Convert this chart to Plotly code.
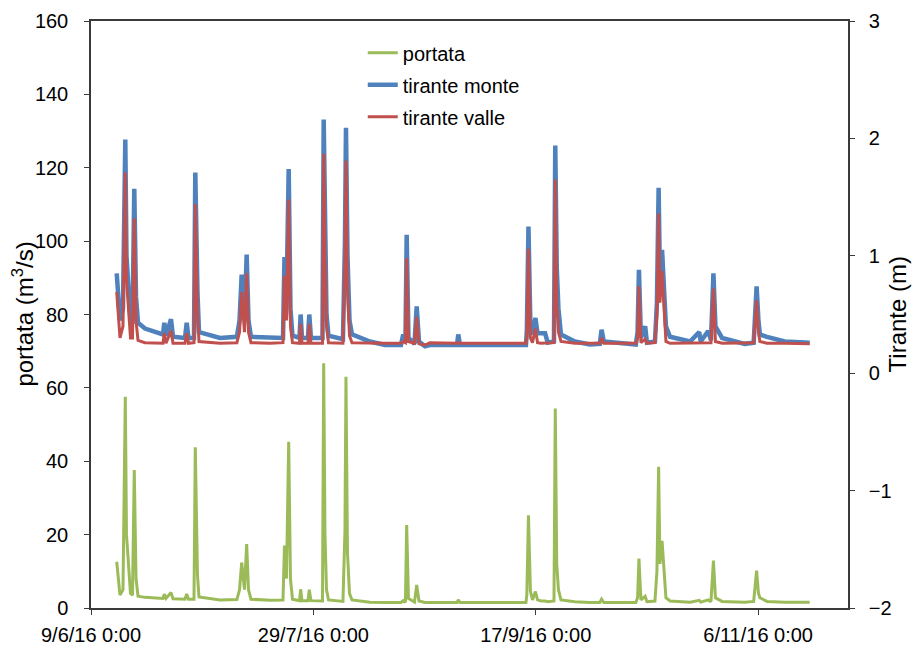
import pandas as pd
import plotly.graph_objects as go

# ---- data ----
start_date = "2016-06-09"
days_since_start = [
    5.78, 6.52, 7.19, 7.71, 7.98, 8.39, 8.88, 9.33, 9.73, 10.12, 10.57, 12.14, 14.39,
    16.19, 16.48, 16.86, 17.99, 18.44, 21.13, 21.52, 21.92, 23.16, 23.45, 23.72, 23.94,
    24.28, 29.0, 32.8, 33.4, 33.88, 34.28, 34.51, 35.0, 35.41, 35.97, 40.24, 43.17, 43.5,
    43.95, 44.45, 44.85, 45.3, 46.87, 47.14, 47.44, 48.79, 49.08, 49.46, 52.05, 52.32,
    52.61, 52.95, 53.4, 56.65, 57.1, 57.33, 57.67, 58.12, 58.68, 62.72, 66.1, 69.7, 70.2,
    70.7, 70.98, 71.38, 72.73, 73.23, 73.74, 75.1, 76.2, 82.3, 82.58, 82.96, 97.8, 98.0,
    98.36, 98.8, 99.26, 99.93, 100.4, 101.2, 102.1, 102.7, 104.1, 104.39, 104.72, 105.1,
    105.67, 108.8, 112.2, 114.4, 114.8, 115.3, 122.5, 122.9, 123.2, 123.65, 124.6, 125.0,
    126.8, 127.25, 127.63, 127.92, 128.4, 128.89, 129.27, 130.2, 134.7, 136.76, 137.1,
    138.78, 139.4, 139.95, 140.4, 141.9, 147.0, 149.0, 149.66, 150.07, 150.4, 151.98,
    156.0, 161.6,
]
portata = [
    12.6, 3.5, 5.0, 57.6, 20, 11.3, 4.0, 3.5, 37.6, 8.0, 3.2, 2.9, 2.7,
    2.6, 3.8, 2.6, 4.2, 2.5, 2.4, 3.8, 2.4, 2.4, 43.8, 15, 9.0,
    3.0, 2.2, 2.3, 5.0, 12.4, 6.0, 5.0, 17.4, 5.0, 2.4, 2.1, 2.2, 17.0,
    8.0, 45.3, 8.0, 2.4, 2.0, 5.1, 2.0, 2.0, 5.0, 2.0, 1.9, 66.7,
    20, 5.0, 2.2, 1.8, 21, 63.0, 15, 4.0, 2.2, 1.6, 1.5, 1.5, 2.0,
    1.6, 22.6, 2.6, 1.6, 6.3, 1.9, 1.5, 1.5, 1.5, 2.2, 1.5, 1.5, 3.6,
    25.3, 4.6, 2.2, 4.5, 2.2, 1.9, 1.9, 1.7, 1.9, 54.4, 12, 5.0,
    2.2, 1.7, 1.5, 1.5, 2.4, 1.5, 1.5, 2.8, 13.5, 2.2, 3.2, 1.7,
    1.9, 10, 38.5, 12, 18.3, 8.5, 2.8, 1.9, 1.6, 2.1, 1.6,
    2.2, 1.7, 12.9, 2.8, 1.8, 1.6, 1.8, 10.2, 4.0, 2.8, 1.8,
    1.6, 1.6,
]
tirante_monte = [
    0.85, 0.45, 0.55, 1.99, 1.00, 0.80, 0.45, 0.42, 1.57, 0.65, 0.43, 0.38, 0.35,
    0.33, 0.43, 0.32, 0.46, 0.31, 0.30, 0.43, 0.30, 0.30, 1.71, 0.90, 0.69,
    0.35, 0.30, 0.31, 0.45, 0.84, 0.50, 0.45, 1.01, 0.45, 0.31, 0.30, 0.30, 0.99,
    0.60, 1.74, 0.55, 0.32, 0.30, 0.50, 0.30, 0.30, 0.50, 0.30, 0.30, 2.16,
    1.49, 0.50, 0.32, 0.29, 1.12, 2.09, 1.00, 0.45, 0.33, 0.27, 0.24, 0.24, 0.33,
    0.26, 1.18, 0.30, 0.25, 0.57, 0.27, 0.23, 0.24, 0.24, 0.33, 0.24, 0.24, 0.36,
    1.25, 0.40, 0.33, 0.47, 0.34, 0.34, 0.34, 0.26, 0.27, 1.94, 0.90, 0.55,
    0.33, 0.27, 0.245, 0.25, 0.37, 0.27, 0.245, 0.35, 0.88, 0.30, 0.40, 0.26,
    0.27, 0.60, 1.58, 0.80, 1.05, 0.68, 0.40, 0.31, 0.27, 0.35, 0.27,
    0.36, 0.28, 0.85, 0.40, 0.30, 0.25, 0.26, 0.74, 0.45, 0.33, 0.31,
    0.27, 0.26,
]
tirante_valle = [
    0.69, 0.30, 0.40, 1.71, 0.80, 0.55, 0.30, 0.30, 1.32, 0.45, 0.28, 0.26, 0.255,
    0.255, 0.34, 0.255, 0.36, 0.255, 0.255, 0.34, 0.255, 0.26, 1.44, 0.70, 0.52,
    0.27, 0.255, 0.26, 0.35, 0.69, 0.40, 0.35, 0.85, 0.35, 0.26, 0.255, 0.26, 0.83,
    0.45, 1.48, 0.40, 0.26, 0.255, 0.42, 0.255, 0.255, 0.42, 0.255, 0.255, 1.87,
    1.00, 0.40, 0.26, 0.255, 0.96, 1.81, 0.70, 0.32, 0.26, 0.255, 0.255, 0.255, 0.27,
    0.26, 0.98, 0.27, 0.255, 0.48, 0.25, 0.24, 0.26, 0.255, 0.26, 0.255, 0.255, 0.30,
    1.06, 0.30, 0.26, 0.38, 0.26, 0.255, 0.255, 0.255, 0.26, 1.65, 0.60, 0.35,
    0.27, 0.255, 0.255, 0.255, 0.30, 0.255, 0.255, 0.30, 0.74, 0.26, 0.29, 0.255,
    0.26, 0.50, 1.36, 0.60, 0.87, 0.54, 0.27, 0.255, 0.255, 0.26, 0.255,
    0.26, 0.26, 0.72, 0.27, 0.255, 0.255, 0.26, 0.62, 0.35, 0.27, 0.255,
    0.255, 0.25,
]
x_tick_dates = ["2016-06-09", "2016-07-29", "2016-09-17", "2016-11-06"]
x_tick_labels = ["9/6/16 0:00", "29/7/16 0:00", "17/9/16 0:00", "6/11/16 0:00"]
x_range = ["2016-06-09", "2016-11-26 05:00"]
y_left_title = "portata (m<sup>3</sup>/s)"
y_right_title = "Tirante (m)"

times = pd.Timestamp(start_date) + pd.to_timedelta(days_since_start, unit="D")

FONT = "Liberation Sans, Arial, sans-serif"
AXC = "#3a3a3a"

fig = go.Figure()
fig.add_trace(go.Scatter(x=times, y=portata, name="portata", mode="lines",
                         line=dict(color="#9BBB59", width=3), legendgroup="a"))
fig.add_trace(go.Scatter(x=times, y=tirante_monte, name="tirante monte", mode="lines",
                         line=dict(color="#4F81BD", width=4.5), yaxis="y2", legendgroup="b"))
fig.add_trace(go.Scatter(x=times, y=tirante_valle, name="tirante valle", mode="lines",
                         line=dict(color="#C0504D", width=3), yaxis="y2", legendgroup="c"))

fig.update_layout(
    width=914, height=646,
    margin=dict(l=91, r=66, t=21, b=38, autoexpand=False),
    paper_bgcolor="white", plot_bgcolor="white",
    font=dict(family=FONT, size=20, color="black"),
    showlegend=True,
    legend=dict(x=0.359, y=0.979, xanchor="left", yanchor="top",
                bgcolor="rgba(0,0,0,0)", font=dict(size=20), tracegroupgap=3,
                traceorder="grouped"),
    xaxis=dict(type="date", range=x_range, tickvals=x_tick_dates, ticktext=x_tick_labels,
               automargin=False,
               showgrid=False, zeroline=False, showline=True, linecolor=AXC, linewidth=1.5,
               mirror=True, ticks="outside", ticklen=5, tickcolor=AXC, ticklabelstandoff=3),
    yaxis=dict(range=[0, 160], dtick=20, showgrid=False, zeroline=False, showline=True,
               automargin=False,
               linecolor=AXC, linewidth=1.5, ticks="outside", ticklen=5, tickcolor=AXC,
               ticklabelstandoff=12),
    yaxis2=dict(range=[-2, 3], dtick=1, overlaying="y", side="right", showgrid=False,
                automargin=False,
                zeroline=False, showline=True, linecolor=AXC, linewidth=1.5,
                ticks="outside", ticklen=5, tickcolor=AXC, ticklabelstandoff=10),
    annotations=[
        dict(text=y_left_title, xref="paper", yref="paper", x=-0.091, y=0.5,
             xanchor="center", yanchor="middle", textangle=-90, showarrow=False,
             font=dict(size=24)),
        dict(text=y_right_title, xref="paper", yref="paper", x=1.066, y=0.5,
             xanchor="center", yanchor="middle", textangle=-90, showarrow=False,
             font=dict(size=24)),
    ],
)

fig.write_html("out.html", config={"displayModeBar": False},
               post_script="document.body.style.margin='0px';")
